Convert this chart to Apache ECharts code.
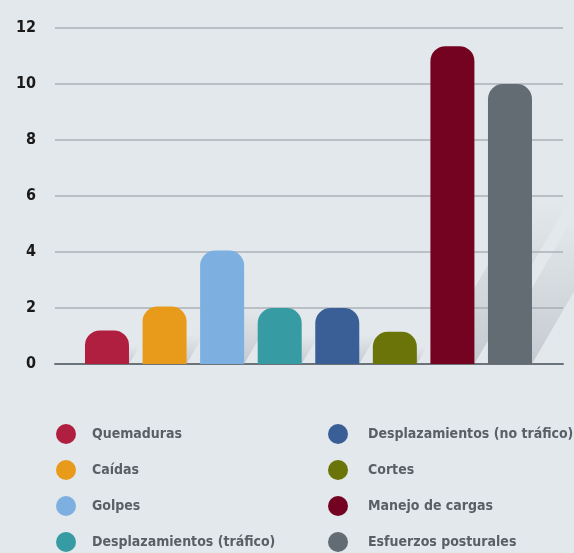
<!DOCTYPE html>
<html>
<head>
<meta charset="utf-8">
<script src="https://cdn.jsdelivr.net/npm/echarts@6/dist/echarts.min.js"></script>
<style>
  html, body { margin: 0; padding: 0; background: #e3e8ec; }
  #chart { width: 574px; height: 553px; }
</style>
</head>
<body>
<div id="chart"></div>
<script>
const categories = [
  'Quemaduras',
  'Caídas',
  'Golpes',
  'Desplazamientos (tráfico)',
  'Desplazamientos (no tráfico)',
  'Cortes',
  'Manejo de cargas',
  'Esfuerzos posturales'
];
const values = [1.2, 2.05, 4.05, 2.0, 2.0, 1.15, 11.35, 10.0];
const colors = ['#b01f3f', '#e89a1a', '#7db0e0', '#379ba3', '#3a5f96', '#6b7408', '#740322', '#636b73'];
const yTicks = [0, 2, 4, 6, 8, 10, 12];

const FONT = '"Liberation Sans Narrow", "DejaVu Sans Condensed", sans-serif';
const chart = echarts.init(document.getElementById('chart'));

const barSeries = categories.map((name, i) => ({
  name: name,
  type: 'bar',
  barWidth: 44,
  barGap: '-100%',
  z: 3,
  itemStyle: { color: colors[i], borderRadius: [15, 15, 0, 0] },
  data: [[i, values[i]]]
}));

// diagonal decorative shadows behind the bars
const shadowSeries = {
  type: 'custom',
  silent: true,
  z: 1,
  data: values.map((v, i) => [i, v]),
  renderItem: (params, api) => {
    const base = api.coord([api.value(0), 0]);
    const top = api.coord([api.value(0), api.value(1)]);
    const h = (base[1] - top[1]) * 0.52;
    const dx = h * 0.58;
    const xl = base[0] - 22, xr = base[0] + 22;
    return {
      type: 'polygon',
      shape: { points: [[xl, base[1]], [xr, base[1]], [xr + dx, base[1] - h], [xl + dx, base[1] - h]] },
      style: {
        fill: new echarts.graphic.LinearGradient(0, 1, 0, 0, [
          { offset: 0, color: 'rgba(160,167,174,0.45)' },
          { offset: 1, color: 'rgba(160,167,174,0)' }
        ])
      }
    };
  }
};

function legendAt(left, pad, names) {
  return {
    orient: 'vertical',
    left: left,
    top: 419,
    height: 140,
    icon: 'circle',
    itemWidth: 20,
    itemHeight: 20,
    itemGap: 16,
    selectedMode: false,
    data: names,
    textStyle: {
      fontFamily: FONT,
      fontWeight: 'bold',
      fontSize: 14,
      color: '#5a5f66',
      padding: [0, 0, 0, pad],
      lineHeight: 20
    }
  };
}

const option = {
  backgroundColor: '#e3e8ec',
  animation: false,
  legend: [
    legendAt(51, 11, categories.slice(0, 4)),
    legendAt(323, 15, categories.slice(4))
  ],
  grid: { left: 55, right: 11, top: 28, bottom: 189 },
  xAxis: {
    type: 'value',
    min: -0.903,
    max: 7.921,
    axisLine: { show: true, onZero: true, lineStyle: { color: '#6b737a', width: 2 } },
    axisTick: { show: false },
    axisLabel: { show: false },
    splitLine: { show: false }
  },
  yAxis: {
    type: 'value',
    min: yTicks[0],
    max: yTicks[yTicks.length - 1],
    interval: 2,
    axisLine: { show: false },
    axisTick: { show: false },
    axisLabel: {
      margin: 19,
      fontFamily: FONT,
      fontWeight: 'bold',
      fontSize: 16,
      color: '#1a1a1a'
    },
    splitLine: { lineStyle: { color: '#b9bfc4', width: 2 } }
  },
  series: [shadowSeries].concat(barSeries)
};

chart.setOption(option);
</script>
</body>
</html>
